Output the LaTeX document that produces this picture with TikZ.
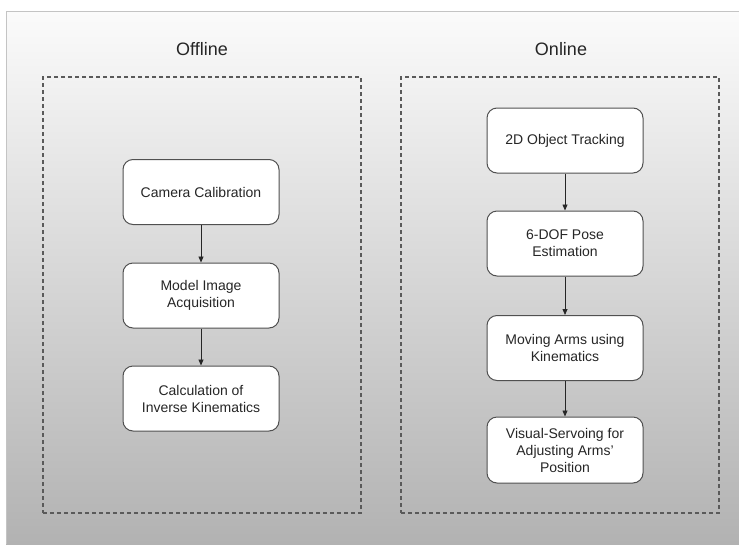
\documentclass[tikz,border=0pt]{standalone}
\usepackage{fontspec}
\setmainfont{Liberation Sans}
\usetikzlibrary{arrows.meta}
\definecolor{framegray}{HTML}{C4C4C4}
\definecolor{boxline}{HTML}{505050}
\definecolor{dashline}{HTML}{5A5A5A}
\definecolor{shadetop}{HTML}{FBFBFB}
\definecolor{shadebottom}{HTML}{B2B2B2}
\tikzset{
  stage/.style={draw=boxline, line width=1pt, fill=white, rounded corners=10pt,
    minimum width=156pt, minimum height=65pt, align=center, inner sep=0pt,
    font=\fontsize{14}{17}\selectfont, text=black!85},
  phase/.style={draw=dashline, line width=1.2pt, dash pattern=on 4pt off 3pt,
    minimum width=318pt, minimum height=436pt, inner sep=0pt},
  title/.style={font=\fontsize{18}{21}\selectfont, text=black!85},
  flow/.style={draw=black!85, line width=0.8pt, -{Triangle[length=6pt,width=5pt]}}
}
\begin{document}
\begin{tikzpicture}[x=1pt,y=-1pt]
  \useasboundingbox (0,0) rectangle (739,544);
  % grey backdrop with a light frame on its top and left edges
  \shade[top color=shadetop, bottom color=shadebottom] (6,11) rectangle (739,544);
  \draw[framegray, line width=1pt] (6.5,544) |- (739,11.5);

  % the two phases
  \node[phase] (offline) at (202,295) {};
  \node[phase] (online) at (560,295) {};
  \node[title] (offtitle) at (202,49) {Offline};
  \node[title] (ontitle) at (561,49) {Online};

  % offline steps
  \node[stage] (cam) at (201,192) {Camera Calibration};
  \node[stage] (model) at (201,295.5) {Model Image\\Acquisition};
  \node[stage] (calc) at (201,398.5) {Calculation of\\Inverse Kinematics};

  % online steps
  \node[stage] (track) at (565,140.5) {2D Object Tracking};
  \node[stage] (pose) at (565,243.5) {6-DOF Pose\\Estimation};
  \node[stage] (move) at (565,348) {Moving Arms using\\Kinematics};
  \node[stage, minimum height=66pt] (servo) at (565,450) {Visual-Servoing for\\Adjusting Arms'\\Position};

  \draw[flow] (cam) -- (model);
  \draw[flow] (model) -- (calc);
  \draw[flow] (track) -- (pose);
  \draw[flow] (pose) -- (move);
  \draw[flow] (move) -- (servo);
\end{tikzpicture}
\end{document}
